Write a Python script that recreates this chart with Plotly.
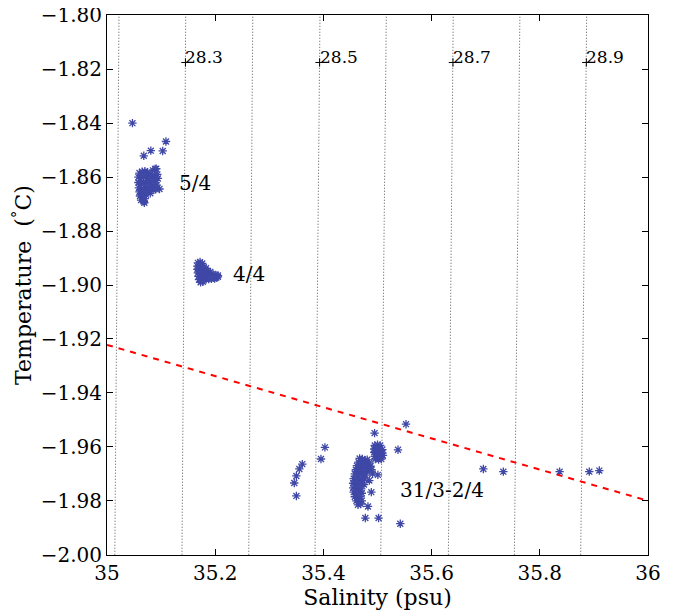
import plotly.graph_objects as go

# ---------------- data ----------------
# isopycnal (sigma) levels drawn as dotted lines: salinity where each line meets
# the bottom (T=-2.00) and top (T=-1.80) of the plot
sigma_levels = [28.2, 28.3, 28.4, 28.5, 28.6, 28.7, 28.8, 28.9]
sigma_sal_bottom = [35.0144, 35.1386, 35.2620, 35.3845, 35.5060, 35.6310, 35.7530, 35.8756]
sigma_sal_top = [35.0222, 35.1455, 35.2695, 35.3937, 35.5163, 35.6400, 35.7632, 35.8867]
sigma_labels = ["28.3", "28.5", "28.7", "28.9"]
sigma_label_sal = [35.1450, 35.3930, 35.6395, 35.8860]
sigma_label_temp = [-1.8175, -1.8175, -1.8175, -1.8175]

# freezing-point line (red dashed)
freeze_sal = [35.0, 36.0]
freeze_temp = [-1.9222, -1.9800]

# cluster "5/4"
s_54 = [35.047, 35.109, 35.081, 35.103, 35.068, 35.091, 35.097, 35.069,
        35.060, 35.065, 35.070, 35.075, 35.080, 35.085, 35.089,
        35.058, 35.062, 35.067, 35.072, 35.077, 35.083, 35.088, 35.093,
        35.058, 35.063, 35.068, 35.073, 35.079, 35.085, 35.090, 35.094,
        35.059, 35.064, 35.069, 35.075, 35.082, 35.087, 35.092,
        35.060, 35.065, 35.070, 35.078, 35.085, 35.090,
        35.061, 35.066, 35.072, 35.080,
        35.063, 35.068, 35.070]
t_54 = [-1.8400, -1.8468, -1.8502, -1.8503, -1.8521, -1.8569, -1.8644, -1.8695,
        -1.8585, -1.8580, -1.8578, -1.8582, -1.8590, -1.8575, -1.8570,
        -1.8600, -1.8605, -1.8600, -1.8598, -1.8605, -1.8600, -1.8595, -1.8590,
        -1.8620, -1.8625, -1.8618, -1.8622, -1.8620, -1.8615, -1.8612, -1.8605,
        -1.8640, -1.8645, -1.8638, -1.8640, -1.8635, -1.8632, -1.8630,
        -1.8655, -1.8660, -1.8652, -1.8650, -1.8648, -1.8645,
        -1.8670, -1.8675, -1.8665, -1.8660,
        -1.8685, -1.8690, -1.8680]

# cluster "4/4"
s_44 = [35.168, 35.172, 35.176,
        35.167, 35.171, 35.175, 35.179, 35.183,
        35.167, 35.171, 35.175, 35.179, 35.183, 35.187, 35.191,
        35.168, 35.172, 35.176, 35.180, 35.185, 35.189, 35.193, 35.197, 35.201, 35.205,
        35.169, 35.173, 35.177, 35.181, 35.186, 35.190, 35.194, 35.198, 35.202, 35.205,
        35.170, 35.174, 35.178, 35.183, 35.188, 35.193, 35.199,
        35.173, 35.177]
t_44 = [-1.8918, -1.8915, -1.8920,
        -1.8930, -1.8928, -1.8932, -1.8935, -1.8938,
        -1.8942, -1.8945, -1.8942, -1.8946, -1.8948, -1.8950, -1.8952,
        -1.8955, -1.8958, -1.8955, -1.8958, -1.8960, -1.8962, -1.8960, -1.8962, -1.8963, -1.8965,
        -1.8968, -1.8970, -1.8968, -1.8972, -1.8970, -1.8972, -1.8970, -1.8973, -1.8972, -1.8970,
        -1.8980, -1.8982, -1.8978, -1.8980, -1.8978, -1.8977, -1.8976,
        -1.8990, -1.8988]

# cluster "31/3-2/4"
s_31 = [35.5527, 35.4946, 35.4028, 35.3955, 35.5379, 35.5007, 35.4849, 35.4886,
        35.4824, 35.4775, 35.5020, 35.5421,
        35.361, 35.3555, 35.350, 35.3462, 35.350,
        35.495, 35.500, 35.505,
        35.494, 35.499, 35.504, 35.509,
        35.494, 35.499, 35.504, 35.509,
        35.495, 35.500, 35.505, 35.510,
        35.496, 35.502, 35.507,
        35.467, 35.472, 35.477, 35.481,
        35.465, 35.470, 35.475, 35.480, 35.485,
        35.462, 35.467, 35.472, 35.477, 35.482, 35.487,
        35.460, 35.465, 35.470, 35.475, 35.480, 35.486,
        35.458, 35.463, 35.468, 35.473, 35.478,
        35.456, 35.461, 35.466, 35.471, 35.476,
        35.455, 35.460, 35.465, 35.470, 35.475,
        35.455, 35.460, 35.465, 35.470,
        35.456, 35.461, 35.466, 35.471,
        35.458, 35.463, 35.468,
        35.461, 35.466, 35.471,
        35.464, 35.469,
        35.489, 35.491,
        35.6956, 35.7326, 35.8366, 35.8915, 35.9100]
t_31 = [-1.9516, -1.9549, -1.9602, -1.9645, -1.9611, -1.9704, -1.9725, -1.9768,
        -1.9821, -1.9864, -1.9864, -1.9885,
        -1.9664, -1.9682, -1.9708, -1.9734, -1.9782,
        -1.9595, -1.9592, -1.9595,
        -1.9608, -1.9605, -1.9608, -1.9610,
        -1.9620, -1.9622, -1.9620, -1.9623,
        -1.9635, -1.9633, -1.9636, -1.9632,
        -1.9645, -1.9647, -1.9645,
        -1.9643, -1.9645, -1.9650, -1.9648,
        -1.9657, -1.9658, -1.9660, -1.9662, -1.9660,
        -1.9670, -1.9672, -1.9670, -1.9673, -1.9675, -1.9672,
        -1.9685, -1.9688, -1.9686, -1.9690, -1.9688, -1.9690,
        -1.9700, -1.9703, -1.9700, -1.9705, -1.9705,
        -1.9718, -1.9720, -1.9718, -1.9722, -1.9720,
        -1.9735, -1.9738, -1.9735, -1.9738, -1.9740,
        -1.9752, -1.9755, -1.9753, -1.9756,
        -1.9768, -1.9770, -1.9768, -1.9772,
        -1.9785, -1.9787, -1.9785,
        -1.9800, -1.9802, -1.9800,
        -1.9815, -1.9812,
        -1.9685, -1.9700,
        -1.9682, -1.9692, -1.9692, -1.9692, -1.9688]

cluster_names = ["5/4", "4/4", "31/3-2/4"]
cluster_label_sal = [35.130, 35.230, 35.5385]
cluster_label_temp = [-1.8620, -1.8960, -1.9760]

x_ticks = [35, 35.2, 35.4, 35.6, 35.8, 36]
x_tick_text = ["35", "35.2", "35.4", "35.6", "35.8", "36"]
y_ticks = [-1.80, -1.82, -1.84, -1.86, -1.88, -1.90, -1.92, -1.94, -1.96, -1.98, -2.00]
y_tick_text = ["−1.80", "−1.82", "−1.84", "−1.86", "−1.88", "−1.90",
               "−1.92", "−1.94", "−1.96", "−1.98", "−2.00"]

# ---------------- figure ----------------
FONT = "DejaVu Serif"
BLUE = "#3f48a6"

fig = go.Figure()

for sb, st in zip(sigma_sal_bottom, sigma_sal_top):
    fig.add_trace(go.Scatter(x=[sb, st], y=[-2.0, -1.8], mode="lines",
                             line=dict(color="#555555", width=1, dash="1px,2px"),
                             hoverinfo="skip", showlegend=False))

fig.add_trace(go.Scatter(x=sigma_label_sal, y=sigma_label_temp, mode="markers",
                         marker=dict(symbol="cross-thin-open", size=6, color="black",
                                     line=dict(color="black", width=1)),
                         showlegend=False, hoverinfo="skip"))

fig.add_trace(go.Scatter(x=freeze_sal, y=freeze_temp, mode="lines",
                         line=dict(color="#ff0000", width=2, dash="6px,6px"),
                         showlegend=False, hoverinfo="skip"))

for sx, ty in [(s_54, t_54), (s_44, t_44), (s_31, t_31)]:
    fig.add_trace(go.Scatter(x=sx, y=ty, mode="markers",
                             marker=dict(symbol="asterisk-open", size=7, color=BLUE,
                                         line=dict(color=BLUE, width=1.3)),
                             showlegend=False))

for lab, sx, ty in zip(sigma_labels, sigma_label_sal, sigma_label_temp):
    fig.add_annotation(x=sx, y=ty, text=lab, showarrow=False, xanchor="left",
                       yanchor="bottom", xshift=-2, yshift=-7,
                       font=dict(family=FONT, size=17, color="black"))

for lab, sx, ty in zip(cluster_names, cluster_label_sal, cluster_label_temp):
    fig.add_annotation(x=sx, y=ty, text=lab, showarrow=False, xanchor="left",
                       yanchor="middle",
                       font=dict(family=FONT, size=20, color="black"))

axis_common = dict(showline=True, linecolor="black", linewidth=1, mirror="ticks",
                   ticks="inside", ticklen=6, tickcolor="black", showgrid=False,
                   zeroline=False, automargin=False, ticklabeloverflow="allow",
                   tickfont=dict(family=FONT, size=20, color="black"))

fig.update_xaxes(range=[35, 36], tickvals=x_ticks, ticktext=x_tick_text,
                 title=dict(text="Salinity (psu)", font=dict(family=FONT, size=22, color="black"),
                            standoff=0),
                 **axis_common)
fig.update_yaxes(range=[-2.0001, -1.7999], tickvals=y_ticks, ticktext=y_tick_text,
                 title=dict(text="Temperature  (<sup>°</sup>C)",
                            font=dict(family=FONT, size=22, color="black"), standoff=4),
                 **axis_common)

# page body adds an 8px offset, so margins are reduced accordingly
fig.update_layout(width=677, height=614, plot_bgcolor="white", paper_bgcolor="white",
                  font=dict(family=FONT),
                  margin=dict(l=99, r=37, t=7, b=67), showlegend=False)

fig.write_html("out.html")
